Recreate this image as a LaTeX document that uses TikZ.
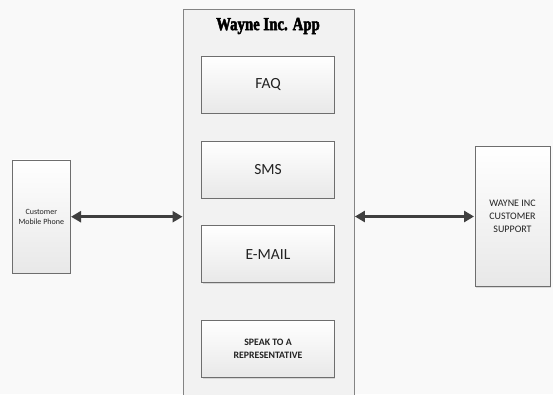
\documentclass[tikz,border=0pt]{standalone}
\usepackage{fontspec}
\setmainfont{Carlito}
\newfontfamily\titlefont[FakeBold=2.6,FakeStretch=0.8]{Liberation Serif}
\usetikzlibrary{shadows,arrows.meta}
\definecolor{edge}{HTML}{6E6E6E}
\definecolor{txt}{HTML}{222222}
\definecolor{arr}{HTML}{3F3F3F}
\definecolor{bg}{HTML}{F9F9F9}
\tikzset{
  box/.style={draw=edge, line width=0.9pt, top color=white, bottom color=black!9,
    drop shadow={shadow xshift=1pt, shadow yshift=-1pt, opacity=0.25},
    text=txt, align=center, inner sep=0pt},
  bigtext/.style={font=\fontsize{15.5}{17}\selectfont},
  appbox/.style={draw=edge!85, line width=0.9pt, fill=black!5},
  link/.style={draw=arr, line width=2.6pt, {Triangle[length=10pt,width=11pt]}-{Triangle[length=10pt,width=11pt]}, shorten <=0.5pt, shorten >=0.5pt}
}
\begin{document}
\begin{tikzpicture}[x=1pt,y=-1pt]
\useasboundingbox (0,0) rectangle (553,394);
\fill[bg] (0,0) rectangle (553,394);
\clip (0,0) rectangle (553,394);
% outer app box
\node[appbox, minimum width=170.5pt, minimum height=400pt, anchor=north west] (app) at (183,8.5) {};
\node[text=black, inner sep=0pt] (title) at (268,26) {\titlefont\bfseries\fontsize{18.5}{18.5}\selectfont Wayne Inc. App};
% inner boxes
\node[box, minimum width=132.5pt, minimum height=57pt, bigtext] (faq) at (268,84.7) {FAQ};
\node[box, minimum width=132.5pt, minimum height=57pt, bigtext] (sms) at (268,169.5) {SMS};
\node[box, minimum width=132.5pt, minimum height=57pt, bigtext] (mail) at (268,254.3) {E-MAIL};
\node[box, minimum width=132.5pt, minimum height=57pt, font=\bfseries\fontsize{9.8}{12.7}\selectfont] (rep) at (268,349) {SPEAK TO A\\REPRESENTATIVE};
% side boxes
\node[box, minimum width=57.5pt, minimum height=113.5pt, font=\fontsize{8}{9.7}\selectfont] (phone) at (41.3,216.7) {Customer\\Mobile Phone};
\node[box, minimum width=75pt, minimum height=140.5pt, font=\fontsize{10}{13}\selectfont] (support) at (512.5,216.5) {WAYNE INC\\CUSTOMER\\SUPPORT};
% connectors
\draw[link] (phone.east) -- (phone.east -| app.west);
\draw[link] (support.west -| app.east) -- (support.west);
\end{tikzpicture}
\end{document}
